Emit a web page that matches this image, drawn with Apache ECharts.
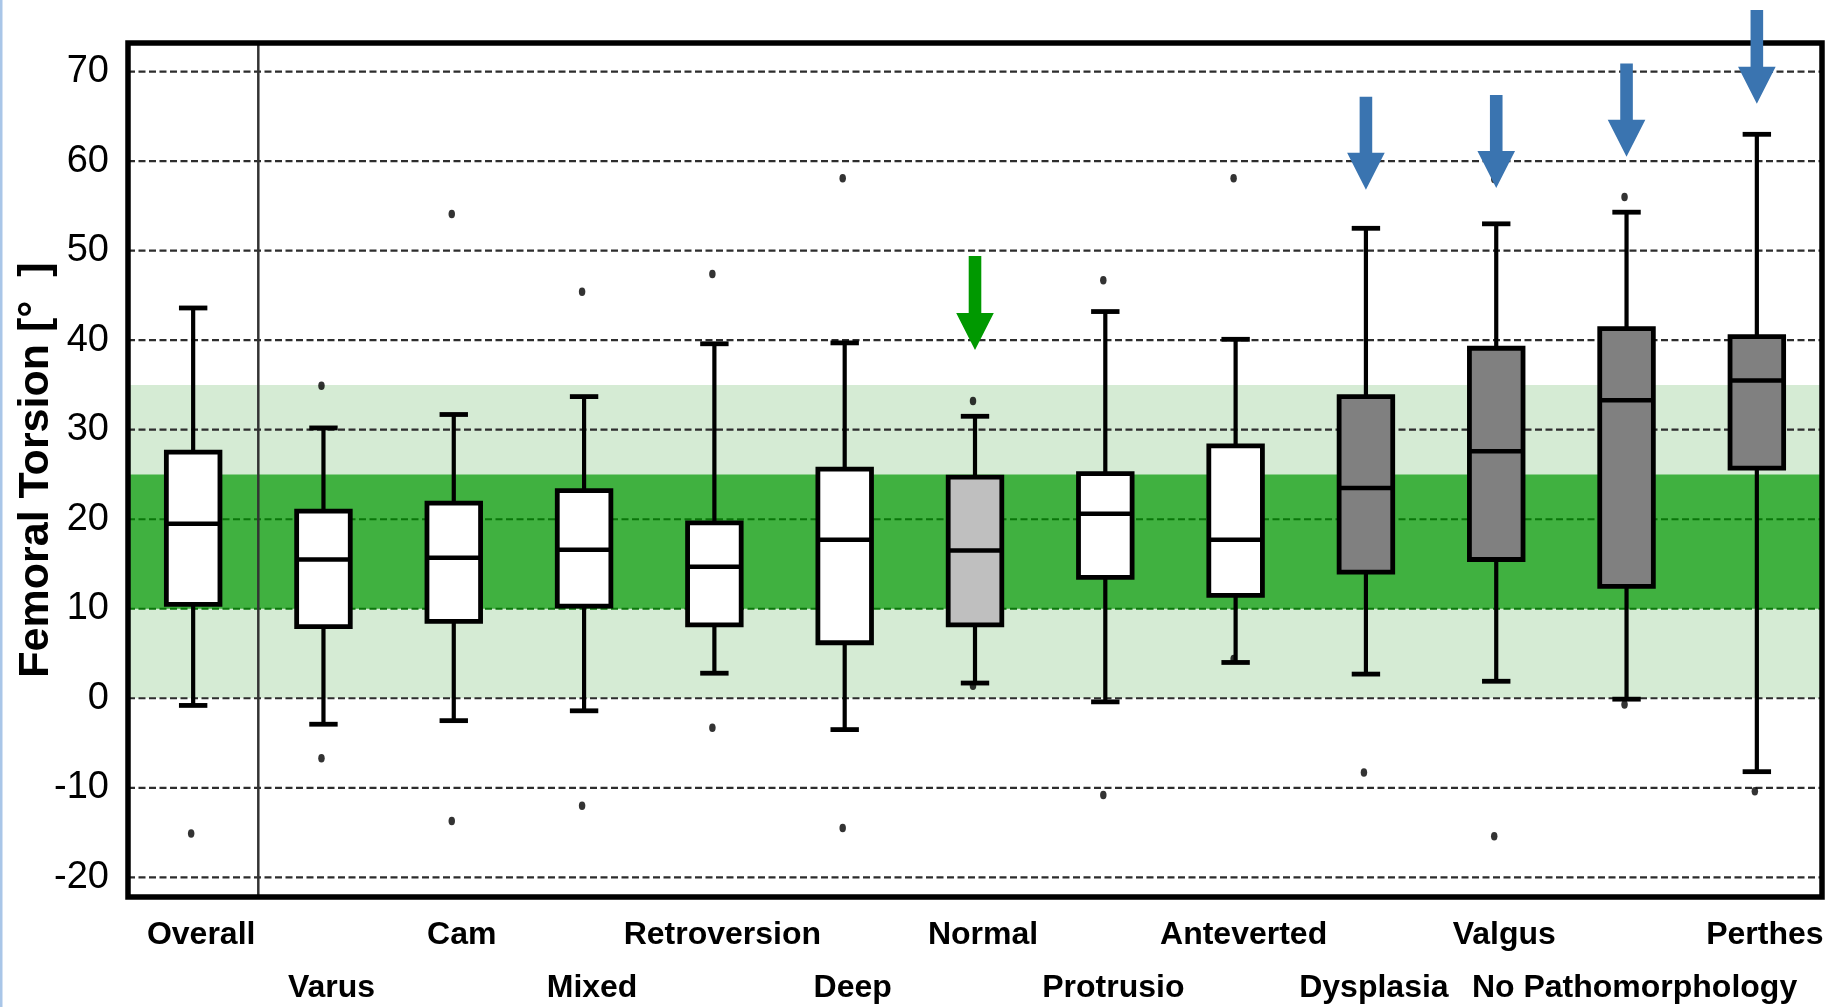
<!DOCTYPE html>
<html>
<head>
<meta charset="utf-8">
<title>Femoral Torsion by Hip Pathomorphology</title>
<script src="https://cdn.jsdelivr.net/npm/echarts@6/dist/echarts.min.js"></script>
<style>
  html, body { margin: 0; padding: 0; background: #ffffff; }
  #chart { width: 1835px; height: 1007px; }
</style>
</head>
<body>
<div id="chart"></div>
<script>
// ---- data ---------------------------------------------------------------
const categories = ['Overall', 'Varus', 'Cam', 'Mixed', 'Retroversion', 'Deep', 'Normal',
  'Protrusio', 'Anteverted', 'Dysplasia', 'Valgus', 'No Pathomorphology', 'Perthes'];

// five-number summaries (degrees)
const whiskerLow  = [-0.8, -2.9, -2.5, -1.4, 2.8, -3.5, 1.7, -0.4, 4.0, 2.7, 1.9, -0.1, -8.2];
const quartile1   = [10.5, 8.0, 8.6, 10.3, 8.2, 6.2, 8.2, 13.5, 11.5, 14.1, 15.5, 12.5, 25.7];
const medians     = [19.5, 15.5, 15.7, 16.6, 14.7, 17.7, 16.5, 20.6, 17.7, 23.5, 27.6, 33.3, 35.5];
const quartile3   = [27.5, 20.9, 21.8, 23.2, 19.6, 25.6, 24.7, 25.1, 28.2, 33.7, 39.1, 41.3, 40.4];
const whiskerHigh = [43.6, 30.2, 31.7, 33.7, 39.6, 39.7, 31.5, 43.2, 40.1, 52.5, 53.0, 54.3, 63.0];

// single outliers above / below the whiskers (null = none)
const outlierHigh = [null, 34.9, 54.1, 45.4, 47.4, 58.1, 33.2, 46.7, 58.1, null, 58.0, 56.0, null];
const outlierLow  = [-15.1, -6.7, -13.7, -12.0, -3.3, -14.5, 1.4, -10.8, 4.4, -8.3, -15.4, -0.7, -10.4];

// group of each box: plain, normal reference, or elevated torsion
const boxGroup = ['plain', 'plain', 'plain', 'plain', 'plain', 'plain', 'normal',
  'plain', 'plain', 'elevated', 'elevated', 'elevated', 'elevated'];

// normal-range bands (degrees)
const outerNormalRange = [0, 35];
const innerNormalRange = [10, 25];

// y-axis tick labels
const yTicks = [-20, -10, 0, 10, 20, 30, 40, 50, 60, 70];

// highlight arrows: category, tail value, tip value
const arrowCategory = ['Normal', 'Dysplasia', 'Valgus', 'No Pathomorphology', 'Perthes'];
const arrowTail = [49.4, 67.2, 67.4, 70.9, 76.9];
const arrowTip  = [38.9, 56.8, 57.0, 60.5, 66.4];
const arrowGroup = ['normal', 'elevated', 'elevated', 'elevated', 'elevated'];

// ---- styles -------------------------------------------------------------
const FONT = '"Liberation Sans", Arial, Helvetica, sans-serif';
const boxFill = { plain: '#ffffff', normal: '#bfbfbf', elevated: '#808080' };
const arrowFill = { normal: '#009900', elevated: '#3a74b0' };
const BOX_HALF = 26.8, CAP_HALF = 14.2;

// ---- series data built from the arrays ----------------------------------
const boxData = categories.map((c, i) =>
  [i, whiskerLow[i], quartile1[i], medians[i], quartile3[i], whiskerHigh[i]]);
const outlierData = [];
categories.forEach((c, i) => {
  if (outlierHigh[i] != null) outlierData.push([i, outlierHigh[i]]);
  if (outlierLow[i] != null) outlierData.push([i, outlierLow[i]]);
});
const arrowData = arrowCategory.map((c, k) => [categories.indexOf(c), arrowTail[k], arrowTip[k]]);
const bandData = [[0, outerNormalRange[0], outerNormalRange[1]], [0, innerNormalRange[0], innerNormalRange[1]]];
const gridLineData = yTicks.map(v => [0, v]);

const chart = echarts.init(document.getElementById('chart'), null, { renderer: 'canvas' });

const option = {
  animation: false,
  backgroundColor: '#ffffff',
  graphic: [{
    type: 'rect', left: 0, top: 0, z: 0,
    shape: { width: 2.5, height: 1007 },
    style: { fill: '#a9c6e8' }
  }],
  grid: {
    left: 128, right: 13, top: 43, bottom: 110,
    containLabel: false,
    outerBoundsMode: 'none',
    show: true, z: 10,
    backgroundColor: 'transparent',
    borderColor: '#000000', borderWidth: 5.5
  },
  xAxis: {
    type: 'category',
    data: categories,
    boundaryGap: true,
    axisLine: { show: false },
    axisTick: { show: false },
    splitLine: { show: false },
    axisLabel: {
      interval: 0,
      margin: 12,
      fontFamily: FONT,
      fontSize: 32,
      fontWeight: 'bold',
      color: '#000000',
      lineHeight: 53,
      padding: [0, 0, 0, 16],
      formatter: (v, i) => (i % 2 ? '\n' + v : v)
    }
  },
  yAxis: {
    type: 'value',
    min: -22.2,
    max: 73.2,
    axisLine: { show: false },
    axisTick: { show: false },
    splitLine: { show: false },
    axisLabel: {
      customValues: yTicks,
      margin: 19,
      fontFamily: FONT,
      fontSize: 38,
      color: '#000000'
    },
    name: 'Femoral Torsion [°  ]',
    nameLocation: 'middle',
    nameMoveOverlap: false,
    nameGap: 70,
    nameTextStyle: { fontFamily: FONT, fontSize: 43, fontWeight: 'bold', color: '#000000' }
  },
  series: [
    { // normal-range bands
      type: 'custom', z: 1, silent: true,
      data: bandData,
      encode: { x: 0, y: [1, 2] },
      renderItem: (params, api) => {
        const cs = params.coordSys;
        const y1 = api.coord([0, api.value(2)])[1];
        const y0 = api.coord([0, api.value(1)])[1];
        return {
          type: 'rect',
          shape: { x: cs.x, y: y1, width: cs.width, height: y0 - y1 },
          style: { fill: params.dataIndex === 0 ? '#d5ebd4' : '#40b140' }
        };
      }
    },
    { // dashed grid lines
      type: 'custom', z: 2, silent: true,
      data: gridLineData,
      encode: { x: 0, y: 1 },
      renderItem: (params, api) => {
        const cs = params.coordSys;
        const v = api.value(1);
        const y = api.coord([0, v])[1];
        const inBand = v >= innerNormalRange[0] && v <= innerNormalRange[1];
        return {
          type: 'line',
          shape: { x1: cs.x, y1: y, x2: cs.x + cs.width, y2: y },
          style: { stroke: inBand ? '#0a760a' : '#2d2d2d', lineWidth: 2.2, lineDash: [7, 3.5] }
        };
      }
    },
    { // separator after the overall column
      type: 'custom', z: 3, silent: true,
      data: [[0, 0]],
      encode: { x: 0, y: 1 },
      renderItem: (params, api) => {
        const cs = params.coordSys;
        const x = api.coord([api.value(0), 0])[0] + api.size([1, 0])[0] / 2;
        return {
          type: 'line',
          shape: { x1: x, y1: cs.y, x2: x, y2: cs.y + cs.height },
          style: { stroke: '#333333', lineWidth: 2.5 }
        };
      }
    },
    { // box plots
      type: 'custom', z: 4, silent: true,
      data: boxData,
      encode: { x: 0, y: [1, 2, 3, 4, 5] },
      renderItem: (params, api) => {
        const i = api.value(0);
        const x = api.coord([i, 0])[0];
        const yLo = api.coord([i, api.value(1)])[1];
        const yQ1 = api.coord([i, api.value(2)])[1];
        const yMed = api.coord([i, api.value(3)])[1];
        const yQ3 = api.coord([i, api.value(4)])[1];
        const yHi = api.coord([i, api.value(5)])[1];
        const line = (x1, y1, x2, y2, w) => ({
          type: 'line', shape: { x1, y1, x2, y2 },
          style: { stroke: '#000000', lineWidth: w }
        });
        return {
          type: 'group',
          children: [
            line(x, yHi, x, yQ3, 4.2),
            line(x, yQ1, x, yLo, 4.2),
            line(x - CAP_HALF, yHi, x + CAP_HALF, yHi, 4.8),
            line(x - CAP_HALF, yLo, x + CAP_HALF, yLo, 4.8),
            {
              type: 'rect',
              shape: { x: x - BOX_HALF, y: yQ3, width: 2 * BOX_HALF, height: yQ1 - yQ3 },
              style: { fill: boxFill[boxGroup[i]], stroke: '#000000', lineWidth: 4.8 }
            },
            line(x - BOX_HALF, yMed, x + BOX_HALF, yMed, 4.5)
          ]
        };
      }
    },
    { // outliers
      type: 'scatter', z: 5, silent: true,
      data: outlierData,
      symbol: 'circle',
      symbolSize: [6.5, 8.5],
      symbolOffset: [-2, 0],
      itemStyle: { color: '#000000' }
    },
    { // highlight arrows
      type: 'custom', z: 20, silent: true, clip: false,
      data: arrowData,
      encode: { x: 0, y: [1, 2] },
      renderItem: (params, api) => {
        const c = api.value(0);
        const x = api.coord([c, 0])[0];
        const yTail = api.coord([c, api.value(1)])[1];
        const yTip = api.coord([c, api.value(2)])[1];
        const headLen = 37, shaftHalf = 6.3, headHalf = 18.8;
        const yBase = yTip - headLen;
        return {
          type: 'polygon',
          shape: {
            points: [
              [x - shaftHalf, yTail], [x + shaftHalf, yTail], [x + shaftHalf, yBase],
              [x + headHalf, yBase], [x, yTip], [x - headHalf, yBase], [x - shaftHalf, yBase]
            ]
          },
          style: { fill: arrowFill[arrowGroup[params.dataIndex]] }
        };
      }
    }
  ]
};

chart.setOption(option);
</script>
</body>
</html>
